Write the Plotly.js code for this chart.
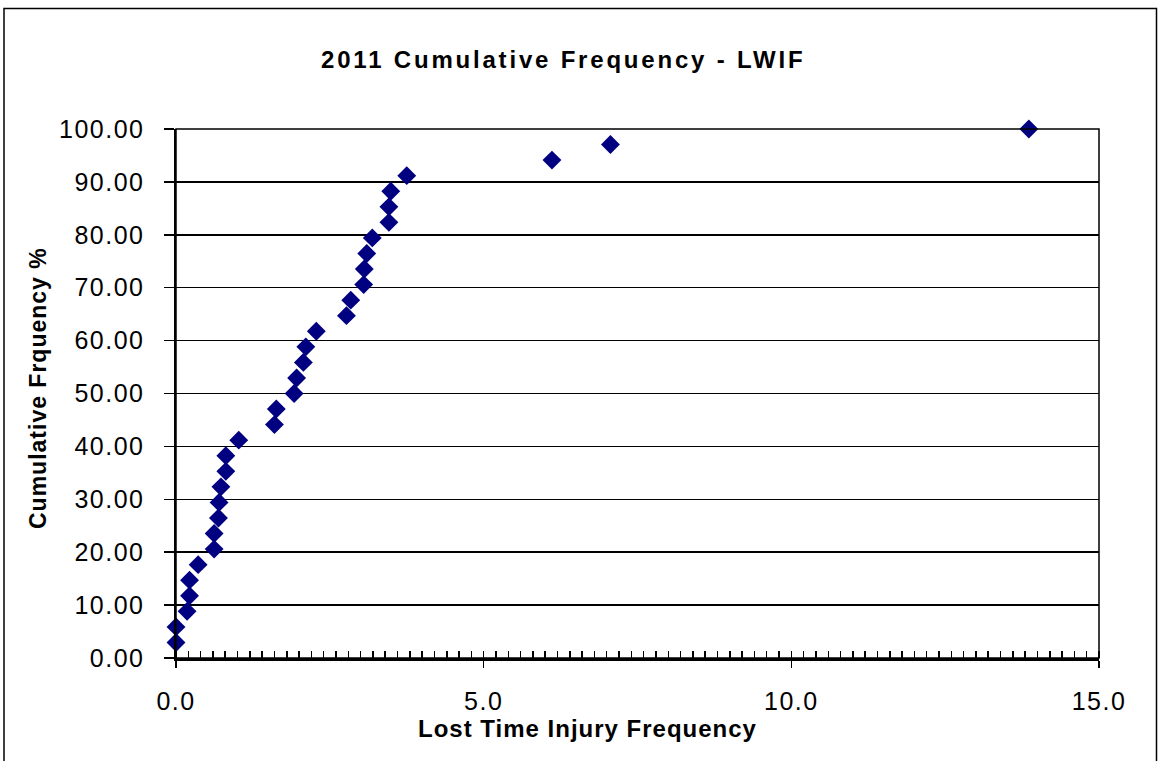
<!DOCTYPE html>
<html>
<head>
<meta charset="utf-8">
<script src="https://cdn.plot.ly/plotly-3.0.1.min.js"></script>
<style>
  html, body { margin: 0; padding: 0; background: #fff; }
  #chart { width: 1159px; height: 761px; }
  .xtick text, .ytick text { letter-spacing: 1.5px; }
  .gtitle { letter-spacing: 2.8px; }
  .annotation-text { letter-spacing: 1px; }
</style>
</head>
<body>
<div id="chart"></div>
<script>
// Data
const lwif = [0.00, 0.00, 0.18, 0.22, 0.22, 0.36, 0.62, 0.62, 0.69, 0.70, 0.73, 0.81, 0.81, 1.02,
              1.60, 1.63, 1.92, 1.96, 2.07, 2.11, 2.28, 2.77, 2.84, 3.05, 3.06, 3.10, 3.19, 3.46,
              3.46, 3.49, 3.75, 6.11, 7.06, 13.86];
const cumFreq = [2.94, 5.88, 8.82, 11.76, 14.71, 17.65, 20.59, 23.53, 26.47, 29.41, 32.35, 35.29,
                 38.24, 41.18, 44.12, 47.06, 50.00, 52.94, 55.88, 58.82, 61.76, 64.71, 67.65, 70.59,
                 73.53, 76.47, 79.41, 82.35, 85.29, 88.24, 91.18, 94.12, 97.06, 100.00];
const chartTitle = '2011 Cumulative Frequency - LWIF';
const xTitle = 'Lost Time Injury Frequency';
const yTitle = 'Cumulative Frquency %';

const FONT = 'Liberation Sans, Arial, sans-serif';

const trace = {
  x: lwif,
  y: cumFreq,
  type: 'scatter',
  mode: 'markers',
  marker: { symbol: 'diamond', size: 14.5, color: '#000080', line: { width: 0 } },
  cliponaxis: false,
  hoverinfo: 'x+y'
};

const layout = {
  width: 1159,
  height: 761,
  paper_bgcolor: '#ffffff',
  plot_bgcolor: '#ffffff',
  showlegend: false,
  margin: { l: 176, r: 60, t: 129, b: 103, pad: 0 },
  font: { family: FONT, color: '#000000', size: 25 },
  title: {
    text: '<b>' + chartTitle + '</b>',
    font: { family: FONT, size: 24, color: '#000000' },
    x: 0.486, xanchor: 'center', xref: 'container',
    y: 0.922, yanchor: 'middle', yref: 'container'
  },
  xaxis: {
    range: [0, 15],
    dtick: 5,
    tick0: 0,
    tickformat: '.1f',
    ticks: 'outside',
    ticklen: 7,
    tickwidth: 1.5,
    tickcolor: '#000',
    ticklabelstandoff: 12,
    tickfont: { family: FONT, size: 25, color: '#000' },
    showline: true,
    linecolor: '#000',
    linewidth: 2.5,
    showgrid: false,
    zeroline: false,
    minor: { dtick: 0.2, tick0: 0, ticks: 'inside', ticklen: 7, tickwidth: 1.5, tickcolor: '#000', showgrid: false }
  },
  xaxis2: {
    overlaying: 'x',
    anchor: 'y',
    side: 'bottom',
    range: [0, 15],
    dtick: 5,
    tick0: 0,
    ticks: 'inside',
    ticklen: 7,
    tickwidth: 1.5,
    tickcolor: '#000',
    showticklabels: false,
    showgrid: false,
    showline: false,
    zeroline: false
  },
  yaxis: {
    range: [0, 100],
    dtick: 10,
    tick0: 0,
    tickformat: '.2f',
    ticks: 'outside',
    ticklen: 10,
    tickwidth: 1.5,
    tickcolor: '#000',
    ticklabelstandoff: 14,
    tickfont: { family: FONT, size: 25, color: '#000' },
    showline: true,
    linecolor: '#000',
    linewidth: 2.5,
    showgrid: true,
    gridcolor: '#000',
    gridwidth: 1.5,
    zeroline: false
  },
  annotations: [
    {
      text: '<b>' + xTitle + '</b>',
      xref: 'paper', yref: 'paper',
      x: (587 - 176) / 923, y: (658 - 728) / 529,
      xanchor: 'center', yanchor: 'middle',
      showarrow: false,
      font: { family: FONT, size: 24, color: '#000' }
    },
    {
      text: '<b>' + yTitle + '</b>',
      xref: 'paper', yref: 'paper',
      x: (38 - 176) / 923, y: (658 - 388) / 529,
      xanchor: 'center', yanchor: 'middle',
      textangle: -90,
      showarrow: false,
      font: { family: FONT, size: 23, color: '#000' }
    }
  ],
  shapes: [
    { type: 'rect', xref: 'paper', yref: 'paper', x0: 0, x1: 1, y0: 0, y1: 1,
      line: { color: '#000', width: 1.5 }, layer: 'above' },
    { type: 'rect', xref: 'paper', yref: 'paper',
      x0: (4 - 176) / 923, x1: (1156.5 - 176) / 923,
      y0: -0.4, y1: (658 - 8.5) / 529,
      line: { color: '#000', width: 1.5 }, layer: 'below' }
  ]
};

Plotly.newPlot('chart', [trace], layout, { displayModeBar: false, staticPlot: true });
</script>
</body>
</html>
